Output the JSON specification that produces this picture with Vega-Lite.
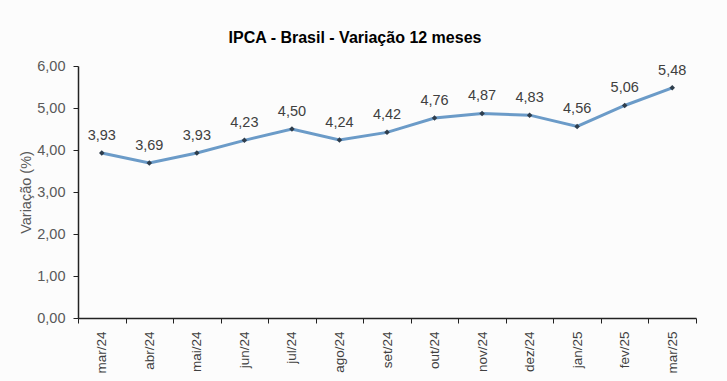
{
  "$schema": "https://vega.github.io/schema/vega-lite/v6.json",
  "autosize": "none",
  "width": 618,
  "height": 252,
  "padding": {"left": 78, "top": 66, "right": 31, "bottom": 63},
  "background": "#fcfcfc",
  "config": {
    "locale": {"number": {"decimal": ",", "thousands": ".", "grouping": [3], "currency": ["R$", ""]}},
    "view": {"stroke": null},
    "font": "Liberation Sans"
  },
  "title": {
    "text": "IPCA - Brasil - Variação 12 meses",
    "fontSize": 16,
    "fontWeight": "bold",
    "color": "#000000",
    "anchor": "middle",
    "frame": "group",
    "dx": -32,
    "offset": 12
  },
  "data": {
    "values": [
      {"mes": "mar/24", "v": 3.93},
      {"mes": "abr/24", "v": 3.69},
      {"mes": "mai/24", "v": 3.93},
      {"mes": "jun/24", "v": 4.23},
      {"mes": "jul/24", "v": 4.50},
      {"mes": "ago/24", "v": 4.24},
      {"mes": "set/24", "v": 4.42},
      {"mes": "out/24", "v": 4.76},
      {"mes": "nov/24", "v": 4.87},
      {"mes": "dez/24", "v": 4.83},
      {"mes": "jan/25", "v": 4.56},
      {"mes": "fev/25", "v": 5.06},
      {"mes": "mar/25", "v": 5.48}
    ]
  },
  "encoding": {
    "x": {
      "field": "mes", "type": "ordinal", "sort": null,
      "scale": {"paddingInner": 0, "paddingOuter": 0},
      "axis": {
        "title": null, "labelAngle": -90, "labelFontSize": 13.5, "labelColor": "#404040",
        "labelPadding": 8, "tickBand": "extent", "tickSize": 5, "tickColor": "#222222",
        "domainColor": "#222222", "domainWidth": 1.5, "grid": false
      }
    },
    "y": {
      "field": "v", "type": "quantitative",
      "scale": {"domain": [0, 6], "nice": false},
      "axis": {
        "title": "Variação (%)", "values": [0, 1, 2, 3, 4, 5, 6], "format": ".2f",
        "labelFontSize": 14.5, "labelColor": "#595959", "labelPadding": 8,
        "titleFontSize": 14.5, "titleFontWeight": "normal", "titleColor": "#595959",
        "titlePadding": 3, "tickSize": 5, "tickColor": "#222222",
        "domainColor": "#222222", "domainWidth": 1.5, "grid": false
      }
    }
  },
  "layer": [
    {"mark": {"type": "line", "color": "#6b9bc8", "strokeWidth": 3}},
    {"mark": {"type": "point", "shape": "diamond", "filled": true, "color": "#2e3d4c", "size": 30, "opacity": 1}},
    {
      "mark": {"type": "text", "dy": -17, "fontSize": 14.5, "color": "#404040"},
      "encoding": {"text": {"field": "v", "type": "quantitative", "format": ".2f"}}
    }
  ]
}
